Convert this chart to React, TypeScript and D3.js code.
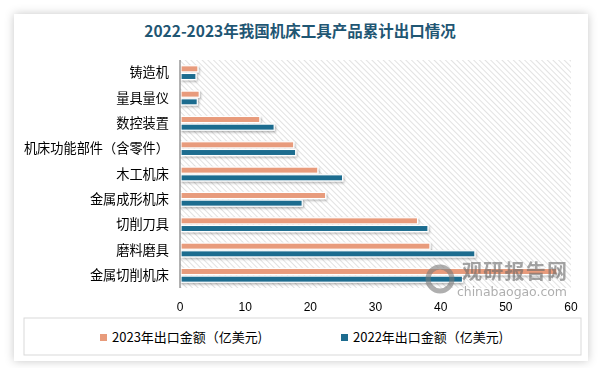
import * as React from 'react';
import * as d3 from 'd3';

const categories = ['铸造机', '量具量仪', '数控装置', '机床功能部件（含零件）', '木工机床', '金属成形机床', '切削刀具', '磨料磨具', '金属切削机床'];
const values2023 = [2.6, 2.8, 12.1, 17.3, 21.0, 22.2, 36.3, 38.2, 57.7];
const values2022 = [2.3, 2.5, 14.3, 17.6, 24.8, 18.6, 37.9, 45.1, 43.2];
const xTicks = [0, 10, 20, 30, 40, 50, 60];
const seriesNames = ['2023年出口金额（亿美元)', '2022年出口金额（亿美元)'];
const colors = ['#e89b7b', '#1d6c8f'];

const width = 600;
const height = 368;
const marginLeft = 180;
const marginRight = 29;
const marginTop = 60;
const plotBottom = 288;

const App: React.FC = () => {
  const x = d3.scaleLinear().domain([0, 60]).range([marginLeft, width - marginRight]);
  const y = d3.scaleBand<string>().domain(categories).range([marginTop, plotBottom]);
  const inner = d3.scaleBand<string>().domain(['2023', '2022']).range([0, y.bandwidth()]).paddingInner(0.2).paddingOuter(0.75);
  const font = '"Noto Sans CJK SC", "Noto Sans", sans-serif';

  return (
    <svg width={width} height={height} style={{ position: 'absolute', left: 0, top: 0 }} fontFamily={font}>
      <defs>
        <pattern id="hatch" width="4" height="4" patternUnits="userSpaceOnUse" patternTransform="rotate(-45)">
          <rect width="4" height="4" fill="#ffffff" />
          <line x1="0" y1="0" x2="0" y2="4" stroke="#d6d6d6" strokeWidth="1.4" />
        </pattern>
        <filter id="cardShadow" x="-5%" y="-8%" width="110%" height="116%">
          <feDropShadow dx="0" dy="0" stdDeviation="5" floodColor="#000" floodOpacity="0.22" />
        </filter>
        <filter id="barShadow" x="-5%" y="-60%" width="110%" height="220%">
          <feDropShadow dx="1" dy="1.5" stdDeviation="1.2" floodColor="#000" floodOpacity="0.3" />
        </filter>
      </defs>
      <rect width={width} height={height} fill="#ffffff" />
      <rect x={14} y={14} width={574} height={347} fill="#ffffff" filter="url(#cardShadow)" />

      <text x={300} y={37} textAnchor="middle" fontSize={15.5} fontWeight="bold" fill="#1f5673">
        2022-2023年我国机床工具产品累计出口情况
      </text>

      <rect x={marginLeft} y={marginTop} width={width - marginRight - marginLeft} height={plotBottom - marginTop} fill="url(#hatch)" />

      <g filter="url(#barShadow)">
        {categories.map((c, i) => (
          <g key={c} transform={`translate(0,${y(c)})`}>
            <rect x={x(0) + 1} y={inner('2023')} width={x(values2023[i]) - x(0)} height={inner.bandwidth()} fill={colors[0]} stroke="#fff" strokeWidth={1.2} />
            <rect x={x(0) + 1} y={inner('2022')} width={x(values2022[i]) - x(0)} height={inner.bandwidth()} fill={colors[1]} stroke="#fff" strokeWidth={1.2} />
          </g>
        ))}
      </g>

      <line x1={x(0)} x2={x(0)} y1={marginTop} y2={plotBottom} stroke="#7f7f7f" strokeWidth={1.2} />

      <g fontSize={13.2} fill="#000" textAnchor="end">
        {categories.map((c) => (
          <text key={c} x={169} y={(y(c) || 0) + y.bandwidth() / 2 + 4.5}>{c}</text>
        ))}
      </g>

      <g fontSize={12} fill="#000" textAnchor="middle" fontFamily='"Liberation Sans", Arial, sans-serif'>
        {xTicks.map((t) => (
          <text key={t} x={x(t)} y={311}>{t}</text>
        ))}
      </g>

      <g opacity={0.6}>
        <circle cx={440} cy={279} r={12} fill="none" stroke="#7a7a7a" strokeWidth={5} />
        <text x={462} y={279} fontSize={20} fontWeight="bold" fill="#6a6a6a" textLength={105}>观研报告网</text>
        <text x={457} y={296} fontSize={12.5} fill="#7a7a7a" fontFamily='"DejaVu Sans", sans-serif' textLength={110}>chinabaogao.com</text>
      </g>

      <rect x={24} y={318} width={557} height={37} fill="#fff" stroke="#d9d9d9" strokeWidth={1} />
      <g fontSize={13} fill="#000">
        <rect x={100} y={334} width={7} height={7} fill={colors[0]} />
        <text x={112} y={342}>{seriesNames[0]}</text>
        <rect x={341} y={334} width={7} height={7} fill={colors[1]} />
        <text x={353} y={342}>{seriesNames[1]}</text>
      </g>
    </svg>
  );
};

export default App;
